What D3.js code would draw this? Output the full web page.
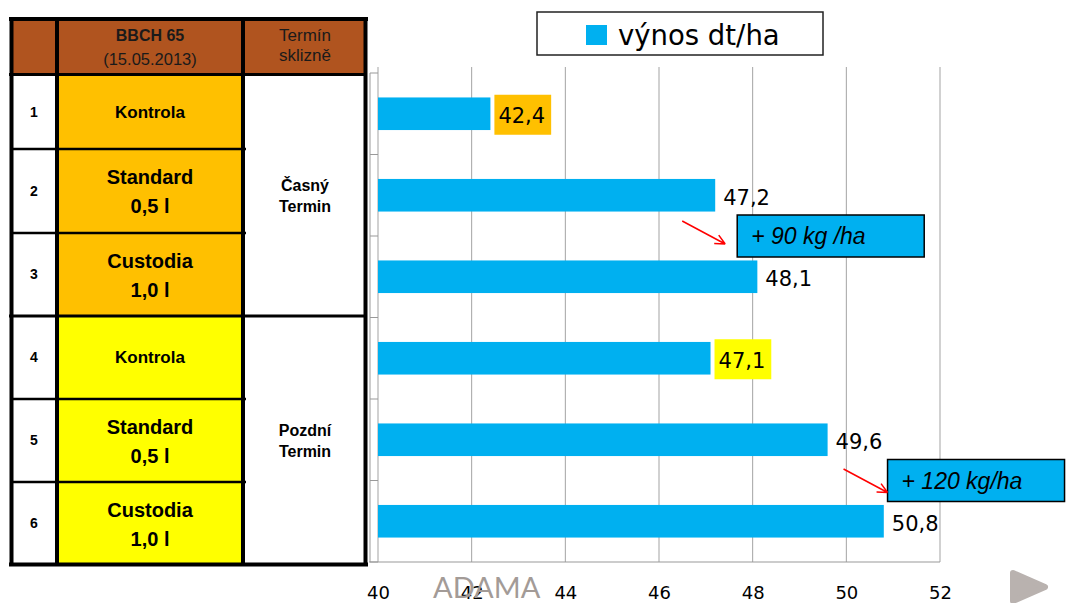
<!DOCTYPE html>
<html>
<head>
<meta charset="utf-8">
<script src="https://cdn.jsdelivr.net/npm/d3@7"></script>
<style>
  body { margin: 0; background: #fff; }
  svg { display: block; }
</style>
</head>
<body>
<div id="chart"></div>
<script>
// table content
const rowNumbers = ["1", "2", "3", "4", "5", "6"];
const treatments = [
    ["Kontrola"], ["Standard", "0,5 l"], ["Custodia", "1,0 l"],
    ["Kontrola"], ["Standard", "0,5 l"], ["Custodia", "1,0 l"]
];
const harvestTerms = [["Časný", "Termin"], ["Pozdní", "Termin"]];
const headerDate = ["BBCH 65", "(15.05.2013)"];
const headerTerm = ["Termín", "sklizně"];

// chart values
const yields = [42.4, 47.2, 48.1, 47.1, 49.6, 50.8];
const xTicks = [40, 42, 44, 46, 48, 50, 52];
const seriesName = "výnos dt/ha";
const gains = ["+ 90 kg /ha", "+ 120 kg/ha"];
const logoText = "ADAMA";

const W = 1067, H = 603;
const blue = "#00B0F0", brown = "#B0541F", orange = "#FFC000", yellow = "#FFFF00";

const svg = d3.select("#chart").append("svg")
    .attr("width", W)
    .attr("height", H);

// ---- table on the left ----
const rowY = [19, 75, 149, 233, 316, 399, 482, 565];
const arial = "'Liberation Sans', Arial, sans-serif";
const table = svg.append("g").attr("font-family", arial).attr("text-anchor", "middle");

table.append("rect")
    .attr("x", 11).attr("y", 19).attr("width", 355).attr("height", 56)
    .attr("fill", brown);

table.selectAll("rect.fill")
    .data(treatments)
    .enter().append("rect")
    .attr("class", "fill")
    .attr("x", 57)
    .attr("y", (d, i) => rowY[i + 1])
    .attr("width", 186)
    .attr("height", (d, i) => rowY[i + 2] - rowY[i + 1])
    .attr("fill", (d, i) => i < 3 ? orange : yellow);

const rowMid = i => (rowY[i + 1] + rowY[i + 2]) / 2;

table.selectAll("text.num")
    .data(rowNumbers)
    .enter().append("text")
    .attr("class", "num")
    .attr("x", 34)
    .attr("y", (d, i) => rowMid(i))
    .attr("dy", "0.35em")
    .attr("font-size", 14)
    .attr("font-weight", "bold")
    .text(d => d);

treatments.forEach((lines, i) => {
    const c = rowMid(i);
    if (lines.length === 1) {
        table.append("text")
            .attr("x", 150).attr("y", c).attr("dy", "0.35em")
            .attr("font-size", 17).attr("font-weight", "bold")
            .text(lines[0]);
    } else {
        lines.forEach((t, j) => {
            table.append("text")
                .attr("x", 150).attr("y", c + (j === 0 ? -14 : 15)).attr("dy", "0.35em")
                .attr("font-size", 20).attr("font-weight", "bold")
                .text(t);
        });
    }
});

harvestTerms.forEach((lines, k) => {
    const c = (rowY[1 + k * 3] + rowY[4 + k * 3]) / 2;
    lines.forEach((t, j) => {
        table.append("text")
            .attr("x", 305).attr("y", c + (j === 0 ? -10.5 : 10.5)).attr("dy", "0.35em")
            .attr("font-size", 16).attr("font-weight", "bold")
            .text(t);
    });
});

table.append("text").attr("x", 150).attr("y", 41)
    .attr("font-size", 16).attr("font-weight", "bold").attr("fill", "#1a1a1a")
    .text(headerDate[0]);
table.append("text").attr("x", 150).attr("y", 65)
    .attr("font-size", 16.5).attr("fill", "#1a1a1a")
    .text(headerDate[1]);
headerTerm.forEach((t, j) => {
    table.append("text").attr("x", 305).attr("y", 41 + j * 20)
        .attr("font-size", 17).attr("fill", "#1a1a1a")
        .text(t);
});

// borders
const rule = (x1, y1, x2, y2, w) => table.append("line")
    .attr("x1", x1).attr("y1", y1).attr("x2", x2).attr("y2", y2)
    .attr("stroke", "#000").attr("stroke-width", w);
[11.5, 57, 243, 365.5].forEach(x => rule(x, 17, x, 566, 4));
rule(9, 19, 368, 19, 4);
rule(9, 74.5, 366, 74.5, 3);
[149, 233, 399, 482].forEach(y => rule(13, y, 246, y, 2.5));
rule(9, 316, 366, 316, 3);
rule(9, 564.5, 368, 564.5, 4);

// ---- bar chart ----
const x = d3.scaleLinear().domain([40, 52]).range([378, 940]);
const y = d3.scaleBand().domain(d3.range(yields.length))
    .range([73, 562]).paddingInner(0.6).paddingOuter(0.3);
const step = y.step();
const yTop = y.range()[0], yBottom = y.range()[1];

const chart = svg.append("g");

chart.append("g")
    .selectAll("line")
    .data(xTicks)
    .enter().append("line")
    .attr("x1", d => x(d)).attr("x2", d => x(d))
    .attr("y1", 67).attr("y2", yBottom)
    .attr("stroke", "#a3a3a3").attr("stroke-width", 1);

chart.append("line")
    .attr("x1", 370).attr("x2", 370).attr("y1", yTop).attr("y2", yBottom)
    .attr("stroke", "#999");
chart.append("line")
    .attr("x1", 369).attr("x2", x(52)).attr("y1", yBottom).attr("y2", yBottom)
    .attr("stroke", "#999");
chart.append("g")
    .selectAll("line")
    .data(d3.range(yields.length + 1))
    .enter().append("line")
    .attr("x1", 370).attr("x2", x(40))
    .attr("y1", d => yTop + d * step).attr("y2", d => yTop + d * step)
    .attr("stroke", "#999");

const xAxis = chart.append("g")
    .attr("transform", `translate(0,${yBottom})`)
    .call(d3.axisBottom(x).tickValues(xTicks).tickSize(0).tickPadding(24));
xAxis.select(".domain").remove();
xAxis.selectAll("text")
    .attr("font-family", "'DejaVu Sans', sans-serif")
    .attr("font-size", 18)
    .attr("fill", "#000");

chart.append("g")
    .selectAll("rect")
    .data(yields)
    .enter().append("rect")
    .attr("x", x(40))
    .attr("y", (d, i) => y(i))
    .attr("width", d => x(d) - x(40))
    .attr("height", y.bandwidth())
    .attr("fill", blue);

const comma = d3.formatLocale({ decimal: ",", thousands: " ", grouping: [3], currency: ["", ""] }).format(".1f");
const highlight = { 0: orange, 3: yellow };

const labels = chart.append("g");
yields.forEach((v, i) => {
    const g = labels.append("g");
    const bg = g.append("rect");
    const t = g.append("text")
        .attr("x", x(v) + 8)
        .attr("y", y(i) + y.bandwidth() / 2 + 2)
        .attr("dy", "0.36em")
        .attr("font-family", "'DejaVu Sans', sans-serif")
        .attr("font-size", 21)
        .attr("fill", "#000")
        .text(comma(v));
    if (highlight[i]) {
        const b = t.node().getBBox();
        bg.attr("x", x(v) + 4).attr("y", y(i) + y.bandwidth() / 2 - 19)
            .attr("width", b.width + 10).attr("height", 40)
            .attr("fill", highlight[i]);
    } else {
        bg.remove();
    }
});

// gain call-outs
const gainLayout = [
    { at: 47.67, row: 2, w: 187, from: [-55, -15], to: [-12, 8] },
    { at: 50.88, row: 5, w: 177, from: [-44, -11.5], to: [0, 12] }
];
gains.forEach((txt, k) => {
    const L = gainLayout[k];
    const bx = x(L.at), by = yTop + L.row * step;
    chart.append("rect")
        .attr("x", bx).attr("y", by - 21).attr("width", L.w).attr("height", 42)
        .attr("fill", blue).attr("stroke", "#000").attr("stroke-width", 1.5);
    chart.append("text")
        .attr("x", bx + 14).attr("y", by + 8)
        .attr("font-family", arial).attr("font-style", "italic")
        .attr("font-size", 23).attr("fill", "#000")
        .text(txt);
    const x1 = bx + L.from[0], y1 = by + L.from[1];
    const x2 = bx + L.to[0], y2 = by + L.to[1];
    const ang = Math.atan2(y2 - y1, x2 - x1);
    const head = 11;
    const p = d3.path();
    p.moveTo(x1, y1); p.lineTo(x2, y2);
    [-0.45, 0.45].forEach(a => {
        p.moveTo(x2, y2);
        p.lineTo(x2 - head * Math.cos(ang + a), y2 - head * Math.sin(ang + a));
    });
    chart.append("path").attr("d", p.toString())
        .attr("fill", "none").attr("stroke", "#FF0000").attr("stroke-width", 1.5);
});

// legend
const legend = svg.append("g");
legend.append("rect")
    .attr("x", 537).attr("y", 12).attr("width", 286).attr("height", 43)
    .attr("fill", "#fff").attr("stroke", "#222").attr("stroke-width", 1.5);
legend.append("rect")
    .attr("x", 586).attr("y", 25).attr("width", 21).attr("height", 20)
    .attr("fill", blue);
legend.append("text")
    .attr("x", 618).attr("y", 45)
    .attr("font-family", "'DejaVu Sans', sans-serif")
    .attr("font-size", 27.5).attr("fill", "#000")
    .text(seriesName);

// logo and slide arrow
svg.append("text")
    .attr("x", 433).attr("y", 598)
    .attr("font-family", "Lato, sans-serif").attr("font-weight", 400)
    .attr("font-size", 29).attr("fill", "#a39b97")
    .text(logoText);
svg.append("path")
    .attr("d", "M1013,573 L1045,587 L1013,601 Z")
    .attr("fill", "#b9b2af").attr("stroke", "#b9b2af")
    .attr("stroke-width", 6).attr("stroke-linejoin", "round");
</script>
</body>
</html>
